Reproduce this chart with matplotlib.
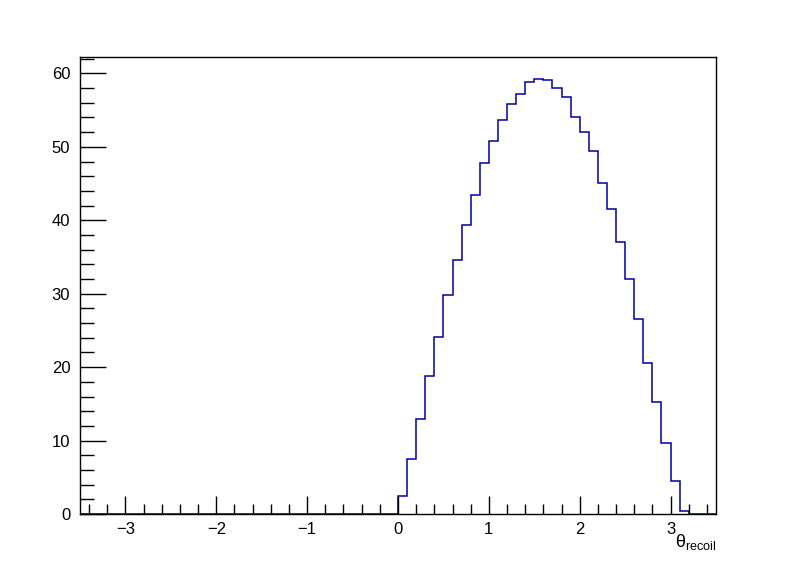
import numpy as np
import matplotlib
matplotlib.use("Agg")
import matplotlib.pyplot as plt
from matplotlib.ticker import MultipleLocator

# histogram: 70 bins of width 0.1 from -3.5 to 3.5, only bins 0.0 .. 3.2 are filled
x_min, x_max = -3.5, 3.5
n_bins = 70
filled_start = 0.0
filled_counts = [2.45, 7.48, 12.88, 18.78, 24.08, 29.89, 34.65, 39.32, 43.49, 47.85,
                 50.84, 53.70, 55.87, 57.23, 58.87, 59.27, 59.14, 58.05, 56.83, 54.10,
                 51.97, 49.39, 45.12, 41.59, 37.10, 32.06, 26.53, 20.63, 15.24, 9.61,
                 4.44, 0.36]
x_label = r"$\theta_{\mathrm{recoil}}$"

plt.rcParams["font.family"] = ["Liberation Sans", "DejaVu Sans"]
plt.rcParams["mathtext.fontset"] = "custom"
plt.rcParams["mathtext.rm"] = "Liberation Sans"
plt.rcParams["mathtext.it"] = "Liberation Sans"
plt.rcParams["mathtext.bf"] = "Liberation Sans"

edges = np.linspace(x_min, x_max, n_bins + 1)
counts = np.zeros(n_bins)
i0 = int(round((filled_start - x_min) / (edges[1] - edges[0])))
counts[i0:i0 + len(filled_counts)] = filled_counts

fig = plt.figure(figsize=(7.96, 5.72), dpi=100)
ax = fig.add_axes([80 / 796, 1 - 514 / 572, 636 / 796, 457 / 572])

ax.stairs(counts, edges, color="#0000a0", linewidth=1.1)

ax.set_xlim(x_min, x_max)
ax.set_ylim(0, max(filled_counts) * 1.05)

ax.xaxis.set_major_locator(MultipleLocator(1))
ax.xaxis.set_minor_locator(MultipleLocator(0.2))
ax.yaxis.set_major_locator(MultipleLocator(10))
ax.yaxis.set_minor_locator(MultipleLocator(2))
ax.tick_params(which="both", direction="in", top=False, right=False,
               labelsize=12, width=1, color="black")
ax.tick_params(axis="x", which="major", length=13, pad=5.5)
ax.tick_params(axis="x", which="minor", length=7)
ax.tick_params(axis="y", which="major", length=19, pad=7)
ax.tick_params(axis="y", which="minor", length=10)
for s in ax.spines.values():
    s.set_linewidth(1)

ax.text(1.0, -0.04, x_label, transform=ax.transAxes, ha="right", va="top",
        fontsize=13)

fig.savefig("out.png", dpi=100)
